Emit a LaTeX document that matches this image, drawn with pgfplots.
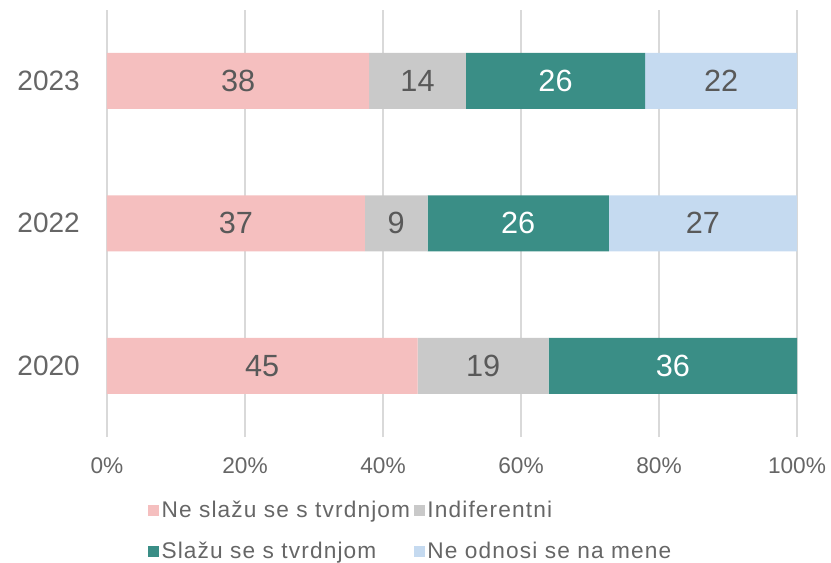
\documentclass[border=0pt]{standalone}
\usepackage{pgfplots}
\pgfplotsset{compat=1.18}
\usepackage{pgfplotstable}
\usepackage{fontspec}
\setmainfont{Liberation Sans}
\newfontfamily\legfont[LetterSpace=5]{Liberation Sans}
\definecolor{pinkc}{HTML}{F5BFBF}
\definecolor{grayc}{HTML}{C9C9C9}
\definecolor{tealc}{HTML}{3A8E86}
\definecolor{bluec}{HTML}{C5DAF0}
\definecolor{gridc}{HTML}{D9D9D9}
\definecolor{tickc}{HTML}{666666}
\definecolor{labc}{HTML}{595959}

% y: 0 = 2020, 1 = 2022, 2 = 2023 ; x = share of the row in %
\pgfplotstableread{
y x
0 45
1 37.37
2 38
}\tA
\pgfplotstableread{
y x
0 19
1 9.09
2 14
}\tB
\pgfplotstableread{
y x
0 36
1 26.26
2 26
}\tC
\pgfplotstableread{
y x
0 0
1 27.27
2 22
}\tD
% value labels: centre of each segment, shown value
\pgfplotstableread{
y x lab
0 22.5 45
0 54.5 19
1 18.69 37
1 41.92 9
1 86.36 27
2 19 38
2 45 14
2 89 22
}\tLabDark
\pgfplotstableread{
y x lab
0 82 36
1 59.60 26
2 65 26
}\tLabWhite

\pgfplotsset{base/.style={
  scale only axis,
  width=517.5pt, height=320.625pt,
  xmin=0, xmax=100,
  ymin=-0.5, ymax=2.5,
}}

\begin{document}
\begin{tikzpicture}
\begin{axis}[
  base,
  xbar stacked,
  bar width=42pt,
  xtick={0,20,40,60,80,100},
  xticklabels={0\%,20\%,40\%,60\%,80\%,100\%},
  ytick={0,1,2},
  yticklabels={2020,2022,2023},
  xmajorgrids,
  grid style={draw=gridc, line width=1.2pt},
  axis line style={draw=none},
  major tick length=0pt,
  xticklabel style={font=\fontsize{17}{20}\selectfont, text=tickc, inner sep=0pt, yshift=-15pt},
  yticklabel style={font=\fontsize{21}{25}\selectfont, text=tickc, inner sep=0pt, xshift=-20.25pt},
  legend columns=2,
  legend cell align=left,
  legend style={at={(0.0594,-0.1427)}, anchor=north west, draw=none, fill=none,
     font=\legfont\fontsize{17}{20}\selectfont, text=tickc, inner sep=0pt, row sep=13pt,
     nodes={inner sep=2pt},
     /tikz/every even column/.append style={column sep=1pt}},
  legend image code/.code={\fill[#1] (0pt,-4pt) rectangle (8pt,4pt);},
]
\addplot[fill=pinkc, draw=none] table[x=x, y=y] {\tA};
\addlegendentry{Ne slažu se s tvrdnjom}
\addplot[fill=grayc, draw=none] table[x=x, y=y] {\tB};
\addlegendentry{Indiferentni}
\addplot[fill=tealc, draw=none] table[x=x, y=y] {\tC};
\addlegendentry{Slažu se s tvrdnjom}
\addplot[fill=bluec, draw=none] table[x=x, y=y] {\tD};
\addlegendentry{Ne odnosi se na mene}
\end{axis}
\begin{axis}[
  base,
  hide axis,
  point meta=explicit symbolic,
  nodes near coords,
]
\addplot[only marks, mark=none,
  every node near coord/.style={anchor=center, font=\fontsize{23}{27}\selectfont, text=labc}]
  table[x=x, y=y, meta=lab] {\tLabDark};
\addplot[only marks, mark=none,
  every node near coord/.style={anchor=center, font=\fontsize{23}{27}\selectfont, text=white}]
  table[x=x, y=y, meta=lab] {\tLabWhite};
\end{axis}
\pgfresetboundingbox
\useasboundingbox (-80.25pt,-93.75pt) rectangle (543pt,327.75pt);
\end{tikzpicture}
\end{document}
